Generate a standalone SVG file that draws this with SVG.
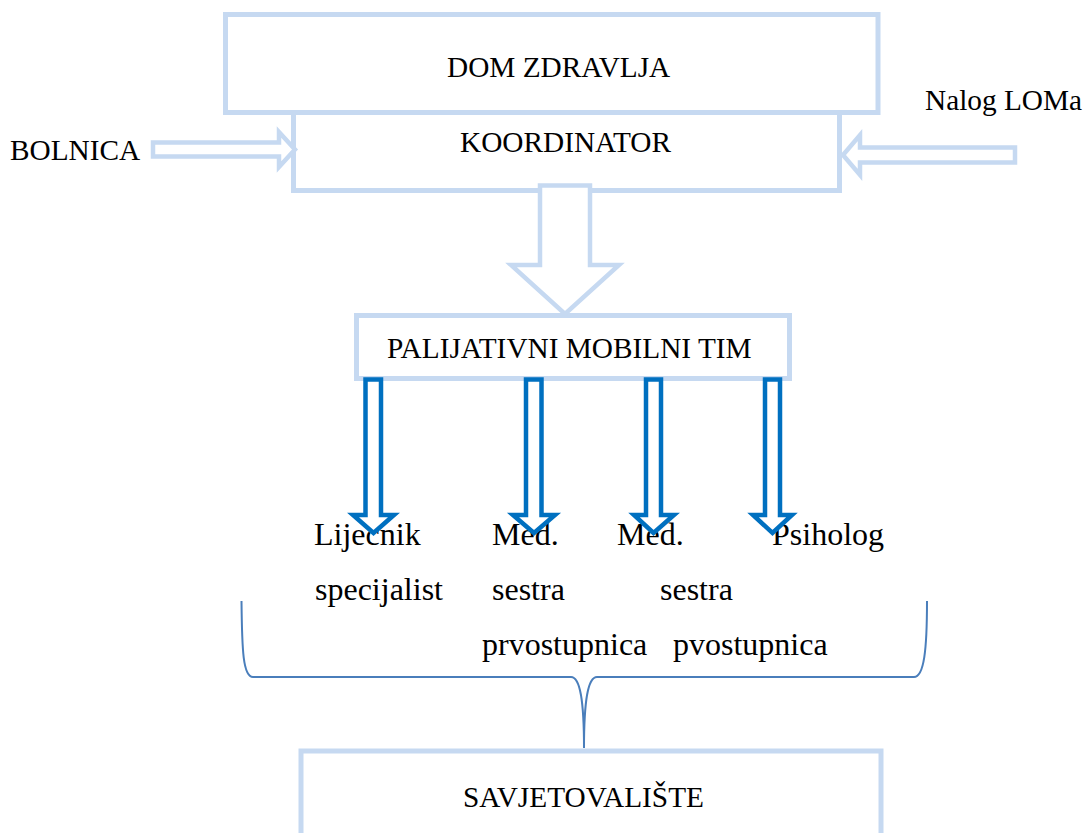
<svg xmlns="http://www.w3.org/2000/svg" width="1086" height="833" viewBox="0 0 1086 833">
<style>
.box{fill:#fff;stroke:#C6D9F1;stroke-width:5}
.larr{fill:#fff;stroke:#C6D9F1;stroke-width:4.5;stroke-linejoin:miter}
.darr{fill:#fff;stroke:#0070C0;stroke-width:4.5;stroke-linejoin:miter}
.brace{fill:none;stroke:#4A7EBB;stroke-width:2}
.t{font-size:29.3px;fill:#000}
.s{font-size:32px;fill:#000}
</style>
<rect width="1086" height="833" fill="#fff"/>
<g font-family="Liberation Serif, Times New Roman, Tinos, Times, serif">
<g id="koordinator">
<rect class="box" x="293.5" y="112.5" width="546" height="78"/>
<text class="t" x="460" y="152">KOORDINATOR</text>
</g>
<g id="dom-zdravlja">
<rect class="box" x="225.5" y="14.5" width="652.5" height="98"/>
<text class="t" x="447" y="77">DOM ZDRAVLJA</text>
</g>
<g id="bolnica">
<text class="t" x="10" y="160">BOLNICA</text>
</g>
<g id="nalog-loma">
<text class="t" x="925" y="110">Nalog LOMa</text>
</g>
<g id="palijativni-mobilni-tim">
<rect class="box" x="356.5" y="315.5" width="433" height="63"/>
<text class="t" x="387" y="358">PALIJATIVNI MOBILNI TIM</text>
</g>
<g id="lijecnik-specijalist">
<text class="s" x="314" y="545">Liječnik</text>
<text class="s" x="315" y="600">specijalist</text>
</g>
<g id="med-sestra-prvostupnica">
<text class="s" x="492" y="545">Med.</text>
<text class="s" x="492" y="600">sestra</text>
<text class="s" x="482" y="655">prvostupnica</text>
</g>
<g id="med-sestra-pvostupnica">
<text class="s" x="617" y="545">Med.</text>
<text class="s" x="660" y="600">sestra</text>
<text class="s" x="673" y="655">pvostupnica</text>
</g>
<g id="psiholog">
<text class="s" x="772" y="545">Psiholog</text>
</g>
<g id="savjetovaliste">
<rect class="box" x="301" y="751" width="580" height="100"/>
<text class="t" x="463" y="807">SAVJETOVALIŠTE</text>
</g>
</g>
<g id="connectors">
<polygon class="larr" points="153,142.5 279,142.5 279,132 295,149.5 279,167 279,156.5 153,156.5"/>
<polygon class="larr" points="1015,147.5 860,147.5 860,135 843,155 860,175 860,162.5 1015,162.5"/>
<polygon class="larr" points="540,185.5 590,185.5 590,265 619,265 565,314 511,265 540,265"/>
<polygon class="darr" points="365.5,379.5 381,379.5 381,515 394,515 373.5,533 353,515 365.5,515"/>
<polygon class="darr" points="526,379.5 541.5,379.5 541.5,515 555,515 534,533 513,515 526,515"/>
<polygon class="darr" points="646,379.5 661,379.5 661,515 674,515 653.5,533 634,515 646,515"/>
<polygon class="darr" points="765,379.5 780,379.5 780,515 792,515 772.5,533 753,515 765,515"/>
<path class="brace" d="M241.5,601 C242,650 243,677 253,677 L571,677 C580,677 584,700 584,748 C584,700 588,677 597,677 L914,677 C924,677 927,650 927,601"/>
</g>
</svg>
